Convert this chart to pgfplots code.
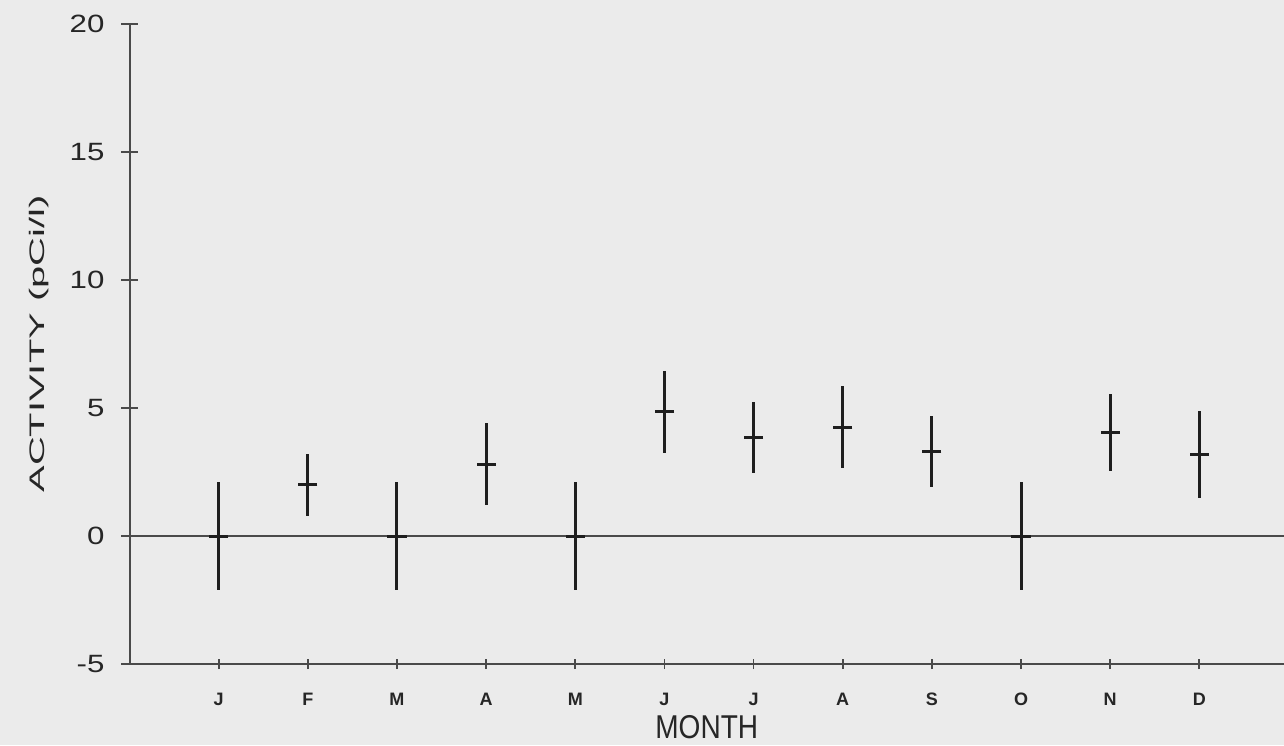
\documentclass[border=0pt]{standalone}
\usepackage{pgfplots}
\pgfplotsset{compat=1.18}
\usepackage{fontspec}
\setmainfont{Liberation Sans}
\newfontfamily\tickfont[FakeStretch=1.25]{Liberation Sans}
\newfontfamily\labelfont[FakeStretch=1.9]{Liberation Sans}
\newfontfamily\monthfont[FakeStretch=0.85]{Liberation Sans}
\usetikzlibrary{backgrounds}
\definecolor{bgc}{HTML}{EBEBEB}
\definecolor{axc}{HTML}{4A4A4A}
\definecolor{barc}{HTML}{1E1E1E}
\pgfplotstableread{
x y e
1 0 2.1
2 2.0 1.2
3 0 2.1
4 2.8 1.6
5 0 2.1
6 4.85 1.6
7 3.85 1.4
8 4.25 1.6
9 3.3 1.4
10 0 2.1
11 4.05 1.5
12 3.2 1.7
}\datatable
\begin{document}
\begin{tikzpicture}
\begin{axis}[
  scale only axis,
  width=577.25pt, height=320pt,
  xmin=0, xmax=12.95, ymin=-5, ymax=20,
  axis x line*=bottom, axis y line*=left,
  xtick pos=bottom, ytick pos=left,
  axis line style={-, color=axc, line width=1pt},
  ytick={-5,0,5,10,15,20},
  yticklabels={-5,0,5,10,15,20},
  xtick={1,2,3,4,5,6,7,8,9,10,11,12},
  xticklabels={J,F,M,A,M,J,J,A,S,O,N,D},
  tick align=center,
  major tick length=8pt,
  tick style={color=axc, line width=0.9pt},
  xtick style={/pgfplots/major tick length=5pt},
  yticklabel style={font=\tickfont\fontsize{12.5}{14}\selectfont, text=black!85, xshift=-5pt},
  xticklabel style={font=\bfseries\fontsize{9}{11}\selectfont, text=black!85, yshift=-7pt},
  xlabel={\monthfont\fontsize{16.5}{18}\selectfont MONTH},
  xlabel style={at={(axis description cs:0.5,-0.098)}, anchor=center, text=black!85},
  ylabel={\labelfont\fontsize{10.5}{12}\selectfont ACTIVITY (pCi/l)},
  ylabel style={at={(axis description cs:-0.078,0.5)}, anchor=center, text=black!85},
  clip=false,
]
\addplot[color=axc, line width=1.1pt] coordinates {(0,0) (12.95,0)};
\addplot[only marks, mark=-, mark size=4.8pt, color=barc,
  mark options={line width=1.5pt},
  error bars/.cd, y dir=both, y explicit, error mark=none,
  error bar style={line width=1.5pt, color=barc}]
  table[x=x, y=y, y error=e] {\datatable};
\end{axis}
\pgfresetboundingbox
\path[use as bounding box] ([xshift=-64.75pt,yshift=-40.5pt]current axis.south west) rectangle ([yshift=12pt]current axis.north east);
\begin{scope}[on background layer]
\fill[bgc] ([xshift=-64.75pt,yshift=-40.5pt]current axis.south west) rectangle ([yshift=12pt]current axis.north east);
\end{scope}
\end{tikzpicture}
\end{document}
